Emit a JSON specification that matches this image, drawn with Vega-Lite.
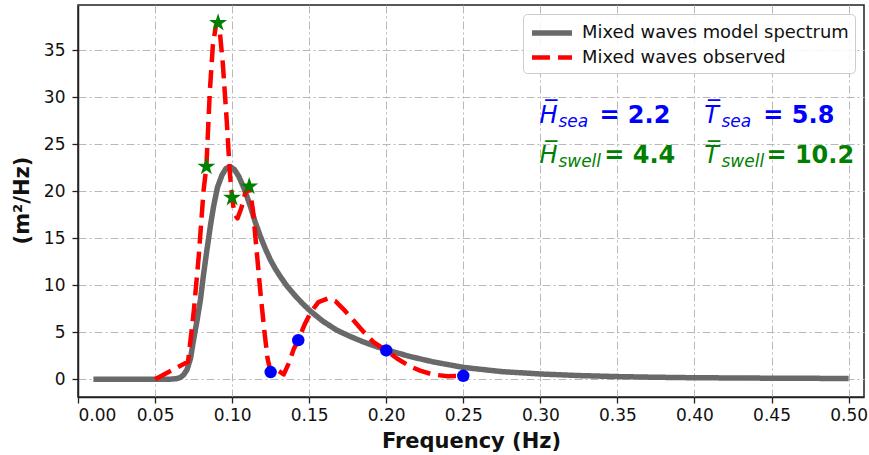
{
  "$schema": "https://vega.github.io/schema/vega-lite/v6.json",
  "width": 786,
  "height": 392,
  "autosize": {"type": "none"},
  "padding": {"left": 78, "top": 5, "right": 5, "bottom": 58},
  "background": "white",
  "config": {
    "view": {"stroke": "#222222", "strokeWidth": 1.5},
    "font": "DejaVu Sans",
    "axis": {
      "labelFont": "DejaVu Sans",
      "labelFontSize": 17,
      "labelColor": "#111111",
      "titleFont": "DejaVu Sans",
      "titleFontSize": 21,
      "titleFontWeight": "bold",
      "titleColor": "#111111",
      "domainColor": "#222222",
      "domainWidth": 1.5,
      "tickColor": "#222222",
      "tickWidth": 1.3,
      "tickSize": 6,
      "grid": true,
      "gridColor": "#b8b8b8",
      "gridWidth": 1,
      "gridDash": [8, 3, 2, 3]
    },
    "legend": {
      "labelFont": "DejaVu Sans",
      "labelFontSize": 17.9,
      "labelColor": "#111111",
      "labelLimit": 0
    }
  },
  "layer": [
    {
      "data": {
        "values": [
          {"f": 0.01, "S": 0, "series": "Mixed waves model spectrum"},
          {"f": 0.06, "S": 0, "series": "Mixed waves model spectrum"},
          {"f": 0.064, "S": 0.05, "series": "Mixed waves model spectrum"},
          {"f": 0.0664, "S": 0.18, "series": "Mixed waves model spectrum"},
          {"f": 0.0685, "S": 0.45, "series": "Mixed waves model spectrum"},
          {"f": 0.0707, "S": 1.0, "series": "Mixed waves model spectrum"},
          {"f": 0.073, "S": 2.2, "series": "Mixed waves model spectrum"},
          {"f": 0.075, "S": 4.2, "series": "Mixed waves model spectrum"},
          {"f": 0.0772, "S": 6.2, "series": "Mixed waves model spectrum"},
          {"f": 0.0794, "S": 8.4, "series": "Mixed waves model spectrum"},
          {"f": 0.0815, "S": 11.2, "series": "Mixed waves model spectrum"},
          {"f": 0.0837, "S": 13.8, "series": "Mixed waves model spectrum"},
          {"f": 0.086, "S": 16.4, "series": "Mixed waves model spectrum"},
          {"f": 0.088, "S": 18.4, "series": "Mixed waves model spectrum"},
          {"f": 0.0905, "S": 20.4, "series": "Mixed waves model spectrum"},
          {"f": 0.0934, "S": 21.7, "series": "Mixed waves model spectrum"},
          {"f": 0.096, "S": 22.4, "series": "Mixed waves model spectrum"},
          {"f": 0.0988, "S": 22.6, "series": "Mixed waves model spectrum"},
          {"f": 0.1015, "S": 22.3, "series": "Mixed waves model spectrum"},
          {"f": 0.1042, "S": 21.6, "series": "Mixed waves model spectrum"},
          {"f": 0.108, "S": 20.2, "series": "Mixed waves model spectrum"},
          {"f": 0.1118, "S": 18.4, "series": "Mixed waves model spectrum"},
          {"f": 0.115, "S": 16.7, "series": "Mixed waves model spectrum"},
          {"f": 0.1183, "S": 15.2, "series": "Mixed waves model spectrum"},
          {"f": 0.1215, "S": 13.9, "series": "Mixed waves model spectrum"},
          {"f": 0.1248, "S": 12.7, "series": "Mixed waves model spectrum"},
          {"f": 0.128, "S": 11.75, "series": "Mixed waves model spectrum"},
          {"f": 0.1313, "S": 10.9, "series": "Mixed waves model spectrum"},
          {"f": 0.1356, "S": 9.9, "series": "Mixed waves model spectrum"},
          {"f": 0.14, "S": 9.05, "series": "Mixed waves model spectrum"},
          {"f": 0.145, "S": 8.15, "series": "Mixed waves model spectrum"},
          {"f": 0.1507, "S": 7.25, "series": "Mixed waves model spectrum"},
          {"f": 0.159, "S": 6.15, "series": "Mixed waves model spectrum"},
          {"f": 0.168, "S": 5.2, "series": "Mixed waves model spectrum"},
          {"f": 0.1765, "S": 4.55, "series": "Mixed waves model spectrum"},
          {"f": 0.1853, "S": 3.95, "series": "Mixed waves model spectrum"},
          {"f": 0.193, "S": 3.5, "series": "Mixed waves model spectrum"},
          {"f": 0.2005, "S": 3.1, "series": "Mixed waves model spectrum"},
          {"f": 0.208, "S": 2.75, "series": "Mixed waves model spectrum"},
          {"f": 0.2157, "S": 2.4, "series": "Mixed waves model spectrum"},
          {"f": 0.23, "S": 1.85, "series": "Mixed waves model spectrum"},
          {"f": 0.25, "S": 1.25, "series": "Mixed waves model spectrum"},
          {"f": 0.275, "S": 0.8, "series": "Mixed waves model spectrum"},
          {"f": 0.3, "S": 0.55, "series": "Mixed waves model spectrum"},
          {"f": 0.325, "S": 0.38, "series": "Mixed waves model spectrum"},
          {"f": 0.35, "S": 0.27, "series": "Mixed waves model spectrum"},
          {"f": 0.375, "S": 0.2, "series": "Mixed waves model spectrum"},
          {"f": 0.4, "S": 0.15, "series": "Mixed waves model spectrum"},
          {"f": 0.45, "S": 0.1, "series": "Mixed waves model spectrum"},
          {"f": 0.5, "S": 0.07, "series": "Mixed waves model spectrum"},
          {"f": 0.05, "S": 0, "series": "Mixed waves observed"},
          {"f": 0.0714, "S": 1.85, "series": "Mixed waves observed"},
          {"f": 0.075, "S": 7.0, "series": "Mixed waves observed"},
          {"f": 0.0783, "S": 13.0, "series": "Mixed waves observed"},
          {"f": 0.0815, "S": 20.1, "series": "Mixed waves observed"},
          {"f": 0.0833, "S": 22.6, "series": "Mixed waves observed"},
          {"f": 0.0855, "S": 30.5, "series": "Mixed waves observed"},
          {"f": 0.0875, "S": 35.5, "series": "Mixed waves observed"},
          {"f": 0.0895, "S": 37.6, "series": "Mixed waves observed"},
          {"f": 0.0909, "S": 37.9, "series": "Mixed waves observed"},
          {"f": 0.092, "S": 37.0, "series": "Mixed waves observed"},
          {"f": 0.094, "S": 33.5, "series": "Mixed waves observed"},
          {"f": 0.0965, "S": 27.5, "series": "Mixed waves observed"},
          {"f": 0.0985, "S": 22.0, "series": "Mixed waves observed"},
          {"f": 0.1, "S": 19.3, "series": "Mixed waves observed"},
          {"f": 0.1015, "S": 17.6, "series": "Mixed waves observed"},
          {"f": 0.1035, "S": 17.1, "series": "Mixed waves observed"},
          {"f": 0.106, "S": 18.2, "series": "Mixed waves observed"},
          {"f": 0.1085, "S": 19.8, "series": "Mixed waves observed"},
          {"f": 0.1111, "S": 20.5, "series": "Mixed waves observed"},
          {"f": 0.1135, "S": 18.0, "series": "Mixed waves observed"},
          {"f": 0.116, "S": 13.5, "series": "Mixed waves observed"},
          {"f": 0.1185, "S": 9.0, "series": "Mixed waves observed"},
          {"f": 0.121, "S": 5.0, "series": "Mixed waves observed"},
          {"f": 0.123, "S": 2.2, "series": "Mixed waves observed"},
          {"f": 0.125, "S": 0.75, "series": "Mixed waves observed"},
          {"f": 0.129, "S": 1.0, "series": "Mixed waves observed"},
          {"f": 0.1335, "S": 0.5, "series": "Mixed waves observed"},
          {"f": 0.1365, "S": 1.6, "series": "Mixed waves observed"},
          {"f": 0.14, "S": 3.2, "series": "Mixed waves observed"},
          {"f": 0.1429, "S": 4.15, "series": "Mixed waves observed"},
          {"f": 0.147, "S": 5.8, "series": "Mixed waves observed"},
          {"f": 0.151, "S": 7.1, "series": "Mixed waves observed"},
          {"f": 0.156, "S": 8.2, "series": "Mixed waves observed"},
          {"f": 0.1625, "S": 8.6, "series": "Mixed waves observed"},
          {"f": 0.167, "S": 8.3, "series": "Mixed waves observed"},
          {"f": 0.1725, "S": 7.4, "series": "Mixed waves observed"},
          {"f": 0.179, "S": 6.2, "series": "Mixed waves observed"},
          {"f": 0.1855, "S": 5.0, "series": "Mixed waves observed"},
          {"f": 0.192, "S": 3.9, "series": "Mixed waves observed"},
          {"f": 0.2, "S": 3.05, "series": "Mixed waves observed"},
          {"f": 0.207, "S": 2.2, "series": "Mixed waves observed"},
          {"f": 0.2155, "S": 1.35, "series": "Mixed waves observed"},
          {"f": 0.222, "S": 0.9, "series": "Mixed waves observed"},
          {"f": 0.23, "S": 0.5, "series": "Mixed waves observed"},
          {"f": 0.24, "S": 0.3, "series": "Mixed waves observed"},
          {"f": 0.25, "S": 0.35, "series": "Mixed waves observed"}
        ]
      },
      "mark": {"type": "line", "strokeCap": "butt", "strokeJoin": "round"},
      "encoding": {
        "x": {
          "field": "f", "type": "quantitative",
          "scale": {"domain": [0, 0.51], "nice": false, "zero": false},
          "axis": {
            "values": [0, 0.05, 0.1, 0.15, 0.2, 0.25, 0.3, 0.35, 0.4, 0.45, 0.5],
            "format": ".2f",
            "title": "Frequency (Hz)",
            "labelPadding": 4,
            "titleY": 50,
            "titleBaseline": "alphabetic"
          }
        },
        "y": {
          "field": "S", "type": "quantitative",
          "scale": {"domain": [-1.9, 39.8], "nice": false, "zero": false},
          "axis": {
            "values": [0, 5, 10, 15, 20, 25, 30, 35],
            "format": "d",
            "title": "(m²/Hz)",
            "labelPadding": 7,
            "titleX": -56,
            "titleY": 195,
            "titleBaseline": "middle",
            "titleAlign": "center"
          }
        },
        "color": {
          "field": "series", "type": "nominal",
          "scale": {"domain": ["Mixed waves model spectrum", "Mixed waves observed"], "range": ["#696969", "#ff0000"]},
          "legend": {
            "title": null,
            "orient": "none",
            "legendX": 445,
            "legendY": 9,
            "symbolType": "M-1,0L3,0",
            "symbolSize": 400,
            "labelOffset": 27,
            "padding": 6,
            "rowPadding": 1,
            "fillColor": "rgba(255,255,255,0.85)",
            "strokeColor": "#cccccc",
            "cornerRadius": 4
          }
        },
        "strokeDash": {
          "field": "series", "type": "nominal",
          "scale": {"domain": ["Mixed waves model spectrum", "Mixed waves observed"], "range": [[1, 0], [18, 8]]}
        },
        "strokeWidth": {
          "field": "series", "type": "nominal",
          "scale": {"domain": ["Mixed waves model spectrum", "Mixed waves observed"], "range": [5.5, 4.5]}
        }
      }
    },
    {
      "data": {
        "values": [
          {"f": 0.0833, "S": 22.6},
          {"f": 0.0909, "S": 37.9},
          {"f": 0.1, "S": 19.3},
          {"f": 0.1111, "S": 20.5}
        ]
      },
      "mark": {
        "type": "point",
        "shape": "M0,-1L0.2245,-0.309L0.951,-0.309L0.363,0.118L0.588,0.809L0,0.382L-0.588,0.809L-0.363,0.118L-0.951,-0.309L-0.2245,-0.309Z",
        "filled": true,
        "color": "#008000",
        "opacity": 1,
        "size": 360
      },
      "encoding": {
        "x": {"field": "f", "type": "quantitative"},
        "y": {"field": "S", "type": "quantitative"}
      }
    },
    {
      "data": {
        "values": [
          {"f": 0.125, "S": 0.75},
          {"f": 0.1429, "S": 4.15},
          {"f": 0.2, "S": 3.05},
          {"f": 0.25, "S": 0.35}
        ]
      },
      "mark": {"type": "circle", "color": "#0000ff", "opacity": 1, "size": 155},
      "encoding": {
        "x": {"field": "f", "type": "quantitative"},
        "y": {"field": "S", "type": "quantitative"}
      }
    },
    {
      "data": {
        "values": [
          {"f": 0.2995, "S": 27.3, "t": "H\u0305", "grp": "sea"},
          {"f": 0.4064, "S": 27.3, "t": "T\u0305", "grp": "sea"},
          {"f": 0.2995, "S": 23.0, "t": "H\u0305", "grp": "swell"},
          {"f": 0.4064, "S": 23.0, "t": "T\u0305", "grp": "swell"}
        ]
      },
      "mark": {"type": "text", "font": "DejaVu Sans", "fontSize": 24, "fontStyle": "italic", "align": "left", "baseline": "alphabetic"},
      "encoding": {
        "x": {"field": "f", "type": "quantitative"},
        "y": {"field": "S", "type": "quantitative"},
        "text": {"field": "t"},
        "fill": {"field": "grp", "type": "nominal", "scale": {"domain": ["sea", "swell"], "range": ["#0000ff", "#008000"]}, "legend": null}
      }
    },
    {
      "data": {
        "values": [
          {"f": 0.3117, "S": 26.87, "t": "sea", "grp": "sea"},
          {"f": 0.4175, "S": 26.87, "t": "sea", "grp": "sea"},
          {"f": 0.3117, "S": 22.57, "t": "swell", "grp": "swell"},
          {"f": 0.4175, "S": 22.57, "t": "swell", "grp": "swell"}
        ]
      },
      "mark": {"type": "text", "font": "DejaVu Sans", "fontSize": 17, "fontStyle": "italic", "align": "left", "baseline": "alphabetic"},
      "encoding": {
        "x": {"field": "f", "type": "quantitative"},
        "y": {"field": "S", "type": "quantitative"},
        "text": {"field": "t"},
        "fill": {"field": "grp", "type": "nominal", "legend": null}
      }
    },
    {
      "data": {
        "values": [
          {"f": 0.3383, "S": 27.3, "t": "= 2.2", "grp": "sea"},
          {"f": 0.4447, "S": 27.3, "t": "= 5.8", "grp": "sea"},
          {"f": 0.3415, "S": 23.0, "t": "= 4.4", "grp": "swell"},
          {"f": 0.4467, "S": 23.0, "t": "= 10.2", "grp": "swell"}
        ]
      },
      "mark": {"type": "text", "font": "DejaVu Sans", "fontSize": 24, "fontWeight": "bold", "align": "left", "baseline": "alphabetic"},
      "encoding": {
        "x": {"field": "f", "type": "quantitative"},
        "y": {"field": "S", "type": "quantitative"},
        "text": {"field": "t"},
        "fill": {"field": "grp", "type": "nominal", "legend": null}
      }
    }
  ]
}
